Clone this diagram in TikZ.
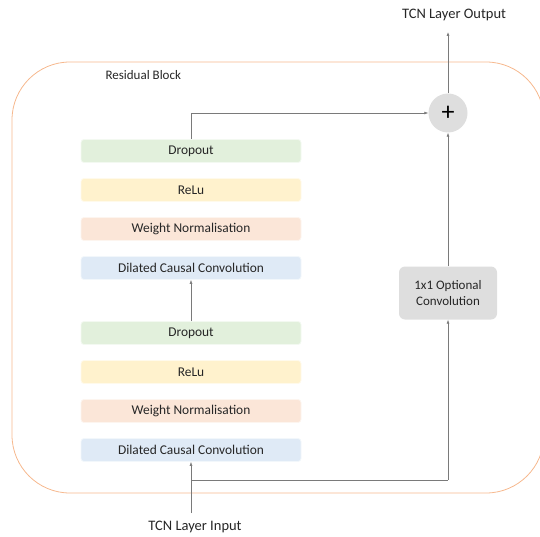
\documentclass[tikz,border=0pt]{standalone}
\usepackage{fontspec}
\setmainfont{Carlito}
\usetikzlibrary{arrows.meta}
\definecolor{dropc}{HTML}{E2F0DC}
\definecolor{reluc}{HTML}{FFF2CD}
\definecolor{normc}{HTML}{FBE6D8}
\definecolor{convc}{HTML}{DFEAF6}
\definecolor{grayc}{HTML}{DEDEDE}
\definecolor{blockc}{HTML}{F6B88E}
\definecolor{linec}{HTML}{7A7A7A}
\definecolor{textc}{HTML}{262626}
\tikzset{
  layer/.style={draw=white!60!#1, line width=0.8pt, fill=#1, rounded corners=3pt,
    minimum width=220pt, minimum height=23pt, inner sep=0pt, text=textc,
    font=\fontsize{13.4}{15}\selectfont},
  optbox/.style={fill=grayc, rounded corners=6pt, minimum width=98pt, minimum height=53pt,
    inner sep=0pt, align=center, text=textc, font=\fontsize{13}{16}\selectfont},
  sumnode/.style={circle, fill=grayc, minimum size=39pt, inner sep=0pt, font=\fontsize{26}{26}\selectfont},
  label/.style={text=textc, font=\fontsize{14.5}{16}\selectfont},
  blocklabel/.style={text=textc, font=\fontsize{13}{15}\selectfont},
  flow/.style={draw=linec, line width=0.6pt, -{Latex[length=4pt,width=3pt]}},
  plain/.style={draw=linec, line width=0.6pt}
}
\begin{document}
\begin{tikzpicture}[x=1pt,y=-1pt]
\useasboundingbox (0,0) rectangle (540,537);
\begin{scope}
\clip (0,0) rectangle (540,537);
\draw[blockc, line width=0.8pt, rounded corners=58pt] (12,62) rectangle (544,493);
\end{scope}
\node[blocklabel, anchor=west] (rb) at (102,75) {Residual Block};

% upper stack
\node[layer=dropc] (d2) at (191,151) {Dropout};
\node[layer=reluc] (r2) at (191,190) {ReLu};
\node[layer=normc] (w2) at (191,229) {Weight Normalisation};
\node[layer=convc] (c2) at (191,268) {Dilated Causal Convolution};
% lower stack
\node[layer=dropc] (d1) at (191,333) {Dropout};
\node[layer=reluc] (r1) at (191,372) {ReLu};
\node[layer=normc] (w1) at (191,411) {Weight Normalisation};
\node[layer=convc] (c1) at (191,450) {Dilated Causal Convolution};

\node[sumnode] (sum) at (448,113) {+};
\node[optbox] (opt) at (448,293) {1x1 Optional\\Convolution};

\node[label] (out) at (454,15) {TCN Layer Output};
\node[label] (in) at (195,527) {TCN Layer Input};
\coordinate (outtip) at (448,32);
\coordinate (instart) at (191,513);
\coordinate (split) at (191,480);
\coordinate (turn) at (448,480);
\coordinate (lift) at (191,113);

\draw[flow] (instart) -- (c1.south);
\draw[plain] (split) -- (turn);
\draw[flow] (turn) -- (opt.south);
\draw[flow] (d1.north) -- (c2.south);
\draw[flow] (d2.north) -- (lift) -- (sum.west);
\draw[flow] (opt.north) -- (sum.south);
\draw[flow] (sum.north) -- (outtip);
\end{tikzpicture}
\end{document}
